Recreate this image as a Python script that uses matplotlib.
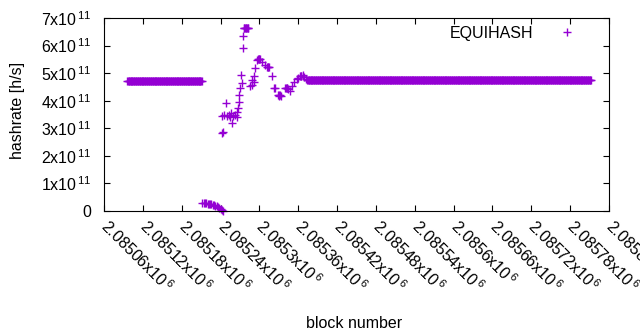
import numpy as np
import matplotlib
matplotlib.use("Agg")
import matplotlib.pyplot as plt

plt.rcParams['font.family'] = ['Liberation Sans', 'DejaVu Sans']
plt.rcParams['mathtext.fontset'] = 'custom'
plt.rcParams['mathtext.rm'] = 'Liberation Sans'
plt.rcParams['mathtext.it'] = 'Liberation Sans:italic'

# block ranges where the hashrate stays flat
flat1_start, flat1_end, flat1_value = 2085096, 2085211, 4.72e11
flat2_start, flat2_end, flat2_value = 2085374, 2085812, 4.75e11

# the collapse right after the first flat stretch
drop_blocks = [2085212, 2085214, 2085216, 2085218, 2085220, 2085222, 2085224,
               2085226, 2085228, 2085230, 2085232, 2085234, 2085236, 2085238,
               2085240, 2085242, 2085244]
drop_values = [0.29e11, 0.29e11, 0.28e11, 0.28e11, 0.27e11, 0.26e11, 0.25e11,
               0.24e11, 0.23e11, 0.21e11, 0.19e11, 0.17e11, 0.15e11, 0.12e11,
               0.09e11, 0.05e11, 0.01e11]

# recovery and oscillation
swing_blocks = [2085242, 2085244, 2085243, 2085246, 2085249, 2085250, 2085253,
                2085255, 2085256, 2085258, 2085259, 2085262, 2085265, 2085266,
                2085267, 2085269, 2085268, 2085270, 2085273, 2085271, 2085274,
                2085275, 2085276, 2085277, 2085278, 2085279, 2085280, 2085281,
                2085282, 2085283, 2085285, 2085288, 2085289, 2085291, 2085292,
                2085293, 2085296, 2085298, 2085299, 2085300, 2085301, 2085304,
                2085309, 2085312, 2085313, 2085314, 2085315, 2085319, 2085322,
                2085324, 2085329, 2085330, 2085331, 2085332, 2085333, 2085340,
                2085341, 2085342, 2085343, 2085344, 2085347, 2085351, 2085354,
                2085358, 2085360, 2085363, 2085364, 2085365, 2085367, 2085369,
                2085372]
swing_values = [2.82e11, 2.88e11, 3.45e11, 3.47e11, 3.93e11, 3.45e11, 3.50e11,
                3.40e11, 3.55e11, 3.18e11, 3.45e11, 3.48e11, 3.42e11, 3.60e11,
                3.72e11, 3.97e11, 4.20e11, 4.45e11, 4.63e11, 4.93e11, 5.90e11,
                6.35e11, 6.63e11, 6.64e11, 6.64e11, 6.63e11, 6.65e11, 6.65e11,
                6.64e11, 6.63e11, 4.53e11, 4.57e11, 4.75e11, 4.90e11, 4.67e11,
                5.17e11, 5.47e11, 5.52e11, 5.50e11, 5.51e11, 5.52e11, 5.42e11,
                5.28e11, 5.23e11, 5.22e11, 5.21e11, 5.23e11, 4.88e11, 4.47e11,
                4.47e11, 4.22e11, 4.18e11, 4.19e11, 4.20e11, 4.18e11, 4.45e11,
                4.47e11, 4.46e11, 4.45e11, 4.43e11, 4.35e11, 4.53e11, 4.67e11,
                4.78e11, 4.83e11, 4.88e11, 4.90e11, 4.91e11, 4.92e11, 4.85e11,
                4.80e11]

xticks = [2085060, 2085120, 2085180, 2085240, 2085300, 2085360, 2085420,
          2085480, 2085540, 2085600, 2085660, 2085720, 2085780, 2085840]
xtick_labels = ['2.08506', '2.08512', '2.08518', '2.08524', '2.0853', '2.08536',
                '2.08542', '2.08548', '2.08554', '2.0856', '2.08566', '2.08572',
                '2.08578', '2.08584']
yticks = [0, 1e11, 2e11, 3e11, 4e11, 5e11, 6e11, 7e11]
ytick_labels = ['0', '1', '2', '3', '4', '5', '6', '7']

flat1_blocks = np.arange(flat1_start, flat1_end + 1)
flat2_blocks = np.arange(flat2_start, flat2_end + 1)
blocks = np.concatenate([flat1_blocks, drop_blocks, swing_blocks, flat2_blocks])
values = np.concatenate([np.full(len(flat1_blocks), flat1_value), drop_values,
                         swing_values, np.full(len(flat2_blocks), flat2_value)])

fig = plt.figure(figsize=(6.4, 3.3), dpi=100)
ax = fig.add_axes([104 / 640, 1 - 211 / 330, 505 / 640, 193 / 330])

ax.plot(blocks, values, linestyle='none', marker='+', markersize=5.5,
        markeredgewidth=1.0, color='#9400d3', label='EQUIHASH', clip_on=False)

ax.set_xlim(2085060, 2085840)
ax.set_ylim(0, 7e11)
ax.set_xticks(xticks)
ax.set_xticklabels([m + r'x10$^{\,6}$' for m in xtick_labels], rotation=-45,
                   ha='left', va='center', rotation_mode='anchor', fontsize=11.5)
ax.set_yticks(yticks)
ax.set_yticklabels([t if t == '0' else t + r'x10$^{\,11}$' for t in ytick_labels],
                   fontsize=11.5)
ax.tick_params(direction='in', length=4.5, width=0.8, top=True, right=True)
ax.tick_params(axis='x', pad=9)
ax.tick_params(axis='y', pad=9)
for s in ax.spines.values():
    s.set_linewidth(0.8)

ax.set_xlabel('block number', fontsize=11.5, labelpad=2)
ax.xaxis.set_label_coords(0.495, -0.545)
ax.set_ylabel('hashrate [h/s]', fontsize=11.5)
ax.yaxis.set_label_coords(-0.157, 0.52)

ax.legend(loc='upper right', bbox_to_anchor=(0.933, 0.96), frameon=False,
          markerfirst=False, handlelength=1.0, handletextpad=1.6,
          borderpad=0, borderaxespad=0, fontsize=11.5)

fig.savefig('out.png', dpi=100)
